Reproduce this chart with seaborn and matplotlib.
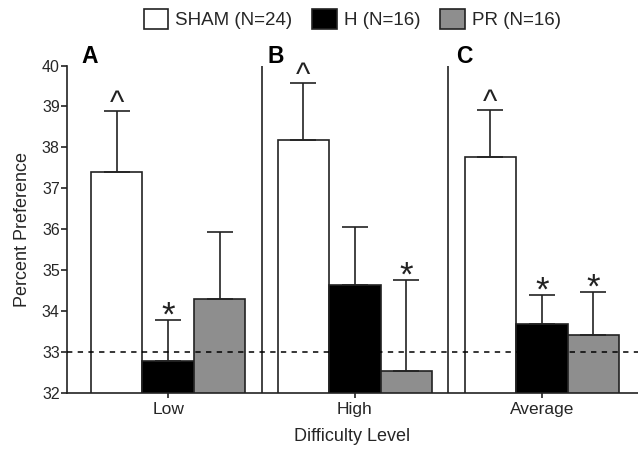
import pandas as pd
import seaborn as sns
import matplotlib.pyplot as plt
from matplotlib.patches import Patch

levels = ["Low", "High", "Average"]
groups = ["SHAM", "H", "PR"]
group_labels = ["SHAM (N=24)", "H (N=16)", "PR (N=16)"]

sham = [37.39, 38.18, 37.77]
h = [32.78, 34.63, 33.68]
pr = [34.29, 32.53, 33.41]

# upper error bar lengths (one-sided)
sham_err = [1.50, 1.39, 1.15]
h_err = [1.00, 1.41, 0.70]
pr_err = [1.64, 2.23, 1.05]

# significance marks above the error bars
sham_marks = ["^", "^", "^"]
h_marks = ["*", "", "*"]
pr_marks = ["", "*", "*"]

chance = 33
panels = ["A", "B", "C"]

colors = {"SHAM": "white", "H": "black", "PR": "#8e8e8e"}
edge = "#222222"

df = pd.DataFrame({
    "level": levels * 3,
    "group": [g for g in groups for _ in levels],
    "value": sham + h + pr,
})
errs = {"SHAM": sham_err, "H": h_err, "PR": pr_err}
marks = {"SHAM": sham_marks, "H": h_marks, "PR": pr_marks}

sns.set_style("ticks")
plt.rcParams["font.family"] = ["Liberation Sans", "DejaVu Sans"]

fig = plt.figure(figsize=(6.38, 4.55), dpi=100)
ax = fig.add_axes([0.1045, 0.137, 0.8955, 0.719])

sns.barplot(data=df, x="level", y="value", hue="group", order=levels,
            hue_order=groups, palette=colors, width=0.827, errorbar=None,
            edgecolor=edge, linewidth=1.2, legend=False, ax=ax)

for cont, g in zip(ax.containers, groups):
    xs = [p.get_x() + p.get_width() / 2 for p in cont.patches]
    ys = [p.get_height() for p in cont.patches]
    ax.errorbar(xs, ys, yerr=[[0] * len(xs), errs[g]], fmt="none",
                ecolor=edge, elinewidth=1.2, capsize=9.5, capthick=1.2,
                zorder=3)
    for x, y, e, m in zip(xs, ys, errs[g], marks[g]):
        if not m:
            continue
        if m == "^":
            ax.annotate(m, (x, y + e), xytext=(0, -1), textcoords="offset points",
                        ha="center", va="baseline", fontsize=22, color=edge,
                        annotation_clip=False)
        else:
            ax.annotate(m, (x, y + e), xytext=(0, -4), textcoords="offset points",
                        ha="center", va="baseline", fontsize=25, color=edge,
                        annotation_clip=False)

ax.axhline(chance, color="black", lw=1.1, ls=(0, (3.5, 3.5)), zorder=4)
ax.vlines([0.5, 1.5], 32, 40, color=edge, lw=1.2)

ax.set_xlim(-0.543, 2.515)
ax.set_ylim(32, 40)
ax.set_yticks(range(32, 41))
sns.despine(ax=ax)
for s in ["left", "bottom"]:
    ax.spines[s].set_linewidth(1.2)
    ax.spines[s].set_color(edge)
ax.tick_params(axis="y", length=4, width=1.2, color=edge, labelsize=11.5, pad=1)
ax.tick_params(axis="x", length=3.5, width=1.2, color=edge, labelsize=12.5, pad=3.5)

for xpos, letter in zip([-0.462, 0.532, 1.54], panels):
    ax.text(xpos, 40.07, letter, fontsize=16.5, fontweight="bold", ha="left",
            va="baseline", color="black")

ax.set_xlabel("Difficulty Level", fontsize=13, labelpad=8)
ax.set_ylabel("Percent Preference", fontsize=13, labelpad=8)

handles = [Patch(facecolor=colors[g], edgecolor=edge, linewidth=1.2) for g in groups]
fig.legend(handles, group_labels, loc="center", bbox_to_anchor=(0.552, 0.958),
           ncol=3, frameon=False, fontsize=13.5, handlelength=1.3, handleheight=1.3,
           handletextpad=0.37, columnspacing=1.07)

plt.savefig("out.png", dpi=100)
